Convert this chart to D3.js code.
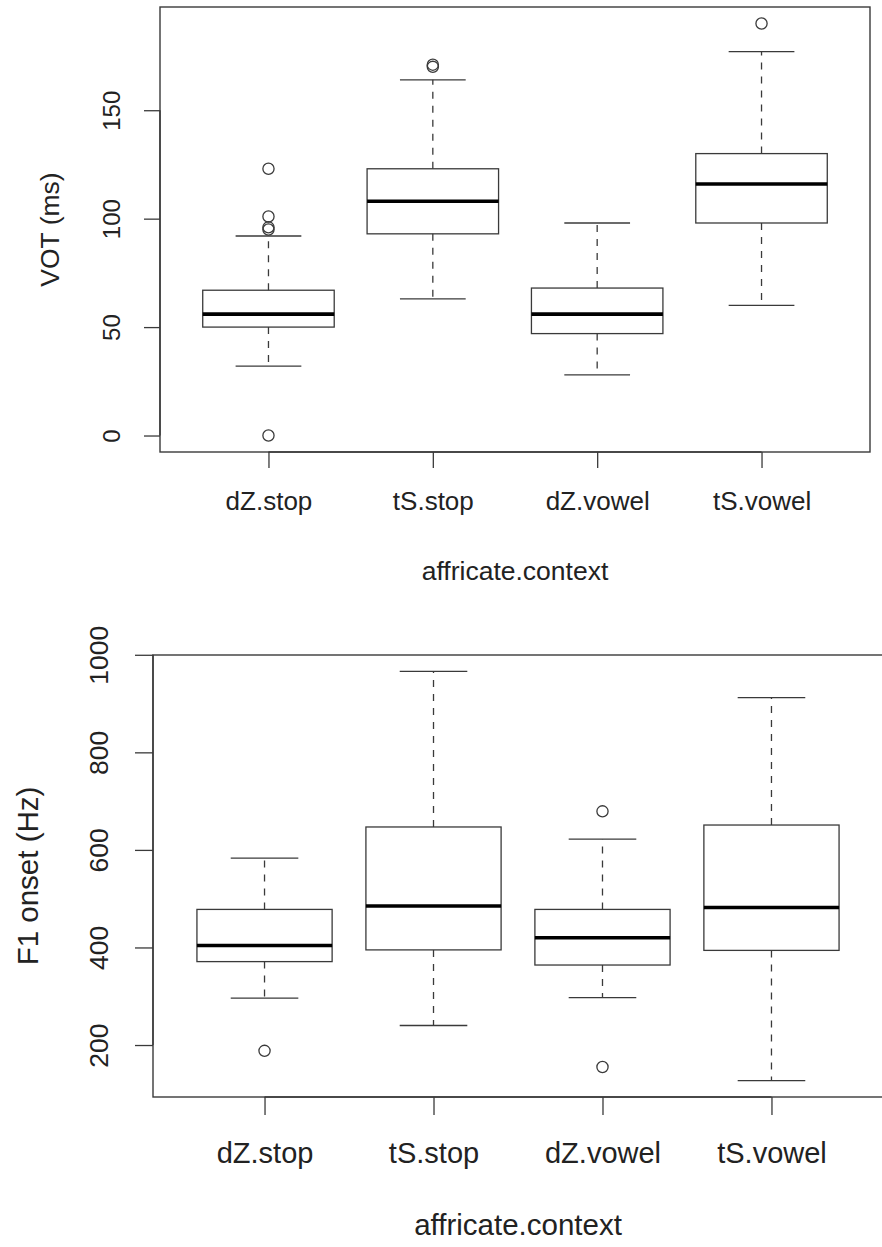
<!DOCTYPE html>
<html>
<head>
<meta charset="utf-8">
<title>VOT and F1 onset by affricate context</title>
<script src="https://cdn.jsdelivr.net/npm/d3@7"></script>
<style>
  body { margin: 0; background: #fff; }
  svg text { font-family: "Liberation Sans", Arial, Helvetica, sans-serif; fill: #222; }
</style>
</head>
<body>
<script>
// categories on the x axis (same for both plots)
var categories = ["dZ.stop", "tS.stop", "dZ.vowel", "tS.vowel"];

// top plot: VOT (ms)
var votLow      = [32, 63, 28, 60];
var votQ1       = [50, 93, 47, 98];
var votMedian   = [56, 108, 56, 116];
var votQ3       = [67, 123, 68, 130];
var votHigh     = [92, 164, 98, 177];
var votOutliers = [[0, 95, 96, 101, 123], [170, 171], [], [190]];
var votTicks    = [0, 50, 100, 150];

// bottom plot: F1 onset (Hz)
var f1Low      = [296, 240, 297, 127];
var f1Q1       = [371, 395, 364, 394];
var f1Median   = [404, 485, 420, 482];
var f1Q3       = [478, 647, 478, 651];
var f1High     = [583, 966, 622, 912];
var f1Outliers = [[188], [], [155, 679], []];
var f1Ticks    = [200, 400, 600, 800, 1000];

var svg = d3.select("body").append("svg")
    .attr("width", 882)
    .attr("height", 1247);

var lineCol = "#3a3a3a";

function boxplot(o) {
  var g = svg.append("g");
  var n = categories.length;

  // R style: xlim 0.5..n+0.5 and 4% padding, same on y
  var x = d3.scaleLinear()
      .domain([0.5 - 0.04 * n, n + 0.5 + 0.04 * n])
      .range([o.left, o.right]);

  var all = o.low.concat(o.high, d3.merge(o.outliers));
  var ext = d3.extent(all);
  var pad = (ext[1] - ext[0]) * 0.04;
  var y = d3.scaleLinear()
      .domain([ext[0] - pad, ext[1] + pad])
      .range([o.bottom, o.top]);

  var rows = categories.map(function (c, i) {
    return { i: i + 1, low: o.low[i], q1: o.q1[i], med: o.median[i], q3: o.q3[i], high: o.high[i], out: o.outliers[i] };
  });

  var bw = x(1.4) - x(0.6);   // box width
  var sw = x(1.2) - x(0.8);   // staple width

  var b = g.selectAll("g.box").data(rows).enter().append("g").attr("class", "box");

  // dashed whiskers
  b.append("line")
      .attr("x1", function (d) { return x(d.i); }).attr("x2", function (d) { return x(d.i); })
      .attr("y1", function (d) { return y(d.q3); }).attr("y2", function (d) { return y(d.high); })
      .attr("stroke", lineCol).attr("stroke-width", 1.3).attr("stroke-dasharray", "7,7");
  b.append("line")
      .attr("x1", function (d) { return x(d.i); }).attr("x2", function (d) { return x(d.i); })
      .attr("y1", function (d) { return y(d.q1); }).attr("y2", function (d) { return y(d.low); })
      .attr("stroke", lineCol).attr("stroke-width", 1.3).attr("stroke-dasharray", "7,7");

  // staples
  ["low", "high"].forEach(function (k) {
    b.append("line")
        .attr("x1", function (d) { return x(d.i) - sw / 2; }).attr("x2", function (d) { return x(d.i) + sw / 2; })
        .attr("y1", function (d) { return y(d[k]); }).attr("y2", function (d) { return y(d[k]); })
        .attr("stroke", lineCol).attr("stroke-width", 1.3);
  });

  // box
  b.append("rect")
      .attr("x", function (d) { return x(d.i) - bw / 2; })
      .attr("y", function (d) { return y(d.q3); })
      .attr("width", bw)
      .attr("height", function (d) { return y(d.q1) - y(d.q3); })
      .attr("fill", "none").attr("stroke", lineCol).attr("stroke-width", 1.3);

  // median
  b.append("line")
      .attr("x1", function (d) { return x(d.i) - bw / 2; }).attr("x2", function (d) { return x(d.i) + bw / 2; })
      .attr("y1", function (d) { return y(d.med); }).attr("y2", function (d) { return y(d.med); })
      .attr("stroke", "#000").attr("stroke-width", 3.6);

  // outliers
  b.selectAll("circle")
      .data(function (d) { return d.out.map(function (v) { return { i: d.i, v: v }; }); })
      .enter().append("circle")
      .attr("cx", function (d) { return x(d.i); })
      .attr("cy", function (d) { return y(d.v); })
      .attr("r", 5.6)
      .attr("fill", "none").attr("stroke", lineCol).attr("stroke-width", 1.3);

  // frame
  g.append("rect")
      .attr("x", o.left).attr("y", o.top)
      .attr("width", o.right - o.left).attr("height", o.bottom - o.top)
      .attr("fill", "none").attr("stroke", lineCol).attr("stroke-width", 1.4);

  // x axis
  var xa = g.append("g")
      .attr("transform", "translate(0," + o.bottom + ")")
      .call(d3.axisBottom(x).tickValues(d3.range(1, n + 1))
        .tickFormat(function (i) { return categories[i - 1]; })
        .tickSize(o.tickLen));
  xa.select(".domain").attr("d", "M" + x(1) + ",0H" + x(n)).attr("stroke", lineCol).attr("stroke-width", 1.4);
  xa.selectAll(".tick line").attr("stroke", lineCol).attr("stroke-width", 1.3);
  xa.attr("font-size", o.xLabelSize).attr("font-family", null);
  xa.selectAll(".tick text").attr("y", o.xLabelY).attr("dy", 0).attr("fill", "#222");

  // y axis
  var ya = g.append("g")
      .attr("transform", "translate(" + o.left + ",0)")
      .call(d3.axisLeft(y).tickValues(o.ticks).tickFormat(d3.format("d")).tickSize(o.tickLen));
  var yt = o.ticks;
  ya.select(".domain").attr("d", "M0," + y(yt[0]) + "V" + y(yt[yt.length - 1])).attr("stroke", lineCol).attr("stroke-width", 1.4);
  ya.selectAll(".tick line").attr("stroke", lineCol).attr("stroke-width", 1.3);
  ya.attr("font-size", o.yTickSize).attr("font-family", null);
  ya.selectAll(".tick text")
      .attr("x", 0).attr("dy", 0)
      .attr("y", -o.yTickOff)
      .attr("transform", "rotate(-90)")
      .attr("text-anchor", "middle")
      .attr("fill", "#222");

  // axis titles
  g.append("text")
      .attr("x", (o.left + o.right) / 2)
      .attr("y", o.bottom + o.xTitleY)
      .attr("text-anchor", "middle")
      .attr("font-size", o.titleSize)
      .text("affricate.context");

  g.append("text")
      .attr("transform", "translate(" + (o.left - o.yTitleOff) + "," + ((o.top + o.bottom) / 2) + ") rotate(-90)")
      .attr("text-anchor", "middle")
      .attr("font-size", o.titleSize)
      .text(o.yTitle);
}

boxplot({
  low: votLow, q1: votQ1, median: votMedian, q3: votQ3, high: votHigh, outliers: votOutliers,
  ticks: votTicks, yTitle: "VOT (ms)",
  left: 160, right: 870, top: 7, bottom: 452,
  tickLen: 16, xLabelY: 58, xLabelSize: 26, yTickSize: 24, yTickOff: 40,
  xTitleY: 128, yTitleOff: 101, titleSize: 26.5
});

boxplot({
  low: f1Low, q1: f1Q1, median: f1Median, q3: f1Q3, high: f1High, outliers: f1Outliers,
  ticks: f1Ticks, yTitle: "F1 onset (Hz)",
  left: 153, right: 883, top: 655, bottom: 1097,
  tickLen: 18, xLabelY: 66, xLabelSize: 29, yTickSize: 26.5, yTickOff: 45,
  xTitleY: 138, yTitleOff: 115, titleSize: 29.5
});
</script>
</body>
</html>
